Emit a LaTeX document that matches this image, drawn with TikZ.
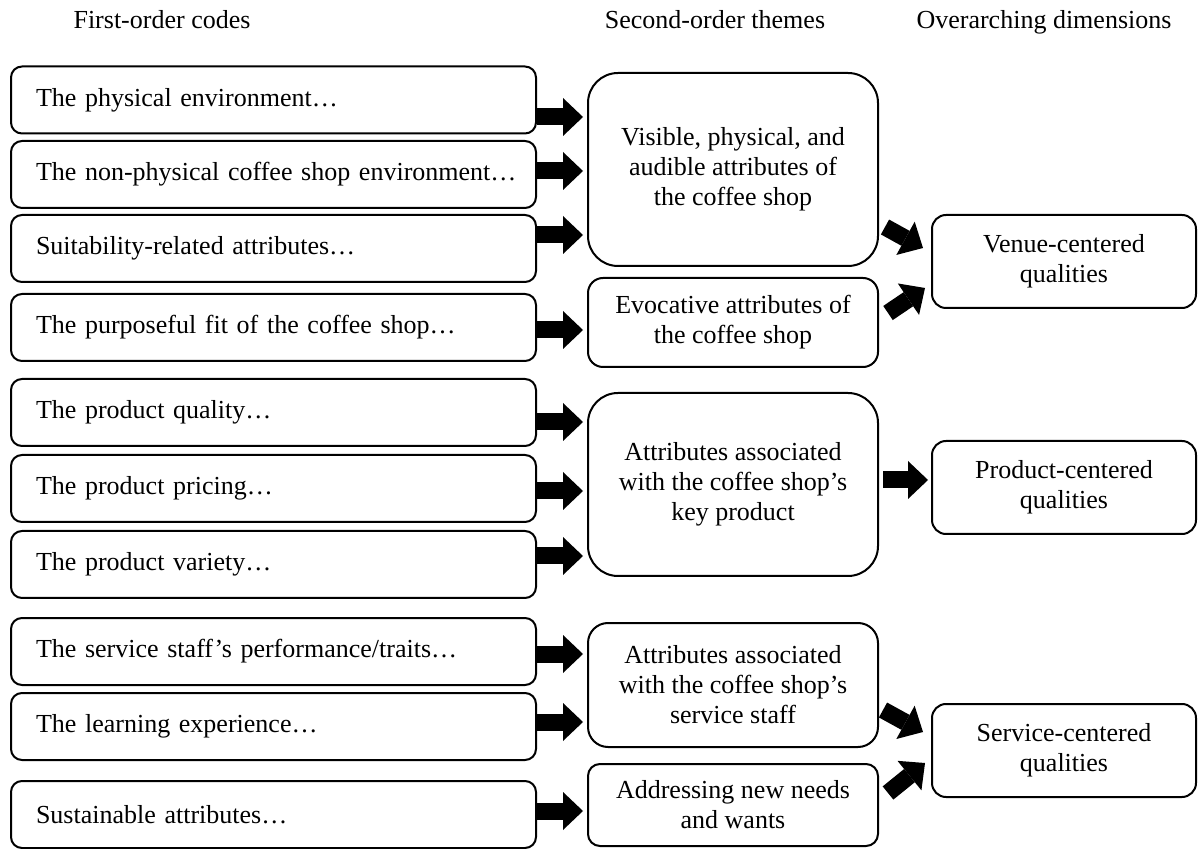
\documentclass[tikz,border=0pt]{standalone}
\usepackage{fontspec}
\setmainfont{Liberation Serif}
\usetikzlibrary{positioning}
\usetikzlibrary{arrows.meta}

\begin{document}
\begin{tikzpicture}[
		x=0.5pt, y=-0.5pt,
		% Style definitions - one pixel of the layout is half a point
		header/.style={font=\fontsize{13}{15}\selectfont, inner sep=0pt, anchor=base},
		codebox/.style={draw, line width=1pt, rounded corners=5.5pt, text width=237.5pt, inner xsep=12.5pt, inner ysep=0pt, minimum height=33.5pt, align=left, font=\fontsize{13}{15}\selectfont},
		themebox/.style={draw, line width=1pt, rounded corners=7.5pt, minimum width=145pt, inner sep=1pt, align=center, font=\fontsize{13}{15}\selectfont},
		dimbox/.style={draw, line width=1pt, rounded corners=7pt, minimum width=132pt, minimum height=46.5pt, inner sep=1pt, align=center, font=\fontsize{13}{15}\selectfont},
		fatarrow/.style={line width=8.5pt, -{Triangle[length=10pt, width=19pt, line width=0pt]}},
		node distance=2.5pt,
		]
		\useasboundingbox (0,0) rectangle (1199,849);

		% === Column headings ===
		\node[header] (hd-codes) at (162,29) {First-order codes};
		\node[header] (hd-themes) at (715,29) {Second-order themes};
		\node[header] (hd-dims) at (1044,29) {Overarching dimensions};

		% === Column 1: first-order codes ===
		\node[codebox] (l1) at (273.5,100) {The physical environment…};
		\node[codebox, below=2.75pt of l1] (l2) {\mbox{The non-physical coffee shop environment…}};
		\node[codebox, below=2.5pt of l2] (l3) {Suitability-related attributes…};
		\node[codebox, below=5pt of l3] (l4) {The purposeful fit of the coffee shop…};
		\node[codebox, below=8pt of l4] (l5) {The product quality…};
		\node[codebox, below=3.5pt of l5] (l6) {The product pricing…};
		\node[codebox, below=3.5pt of l6] (l7) {The product variety…};
		\node[codebox, below=9pt of l7] (l8) {The service staff’s performance/traits…};
		\node[codebox, below=3pt of l8] (l9) {The learning experience…};
		\node[codebox, below=9.5pt of l9] (l10) {Sustainable attributes…};

		% === Column 2: second-order themes ===
		\node[themebox, rounded corners=15pt, minimum height=96.5pt] (a) at (733,169.5) {Visible, physical, and\\audible attributes of\\the coffee shop};
		\node[themebox, minimum height=44.5pt, below=5pt of a] (b) {Evocative attributes of\\the coffee shop};
		\node[themebox, rounded corners=15pt, minimum height=91.5pt] (c) at (733,484.5) {Attributes associated\\with the coffee shop’s\\key product};
		\node[themebox, rounded corners=10pt, minimum height=62pt] (d) at (733,685) {Attributes associated\\with the coffee shop’s\\service staff};
		\node[themebox, rounded corners=6pt, minimum height=41pt, below=7.5pt of d] (e) {Addressing new needs\\and wants};

		% === Column 3: overarching dimensions ===
		\node[dimbox] (v) at (1064,261.5) {Venue-centered\\qualities};
		\node[dimbox] (p) at (1064,487.5) {Product-centered\\qualities};
		\node[dimbox] (s) at (1064,750.5) {Service-centered\\qualities};

		% === Connections: codes to themes ===
		\draw[fatarrow, shorten >=2pt] ([yshift=-8.5pt]l1.east) -- ([yshift=-8.5pt]l1.east -| a.west);
		\draw[fatarrow, shorten >=2pt] ([yshift=1.75pt]l2.east) -- ([yshift=1.75pt]l2.east -| a.west);
		\draw[fatarrow, shorten >=2pt] ([yshift=6.75pt]l3.east) -- ([yshift=6.75pt]l3.east -| a.west);
		\draw[fatarrow, shorten >=2pt] ([yshift=-1.25pt]l4.east) -- ([yshift=-1.25pt]l4.east -| b.west);
		\draw[fatarrow, shorten >=2pt] ([yshift=-4.75pt]l5.east) -- ([yshift=-4.75pt]l5.east -| c.west);
		\draw[fatarrow, shorten >=2pt] ([yshift=-1.25pt]l6.east) -- ([yshift=-1.25pt]l6.east -| c.west);
		\draw[fatarrow, shorten >=2pt] ([yshift=4.25pt]l7.east) -- ([yshift=4.25pt]l7.east -| c.west);
		\draw[fatarrow, shorten >=2pt] ([yshift=-1.25pt]l8.east) -- ([yshift=-1.25pt]l8.east -| d.west);
		\draw[fatarrow, shorten >=2pt] ([yshift=2.25pt]l9.east) -- ([yshift=2.25pt]l9.east -| d.west);
		\draw[fatarrow, shorten >=2pt] ([yshift=1.75pt]l10.east) -- ([yshift=1.75pt]l10.east -| e.west);

		% === Connections: themes to dimensions ===
		\draw[fatarrow] ([xshift=3pt, yshift=-28.75pt]a.east) -- ([xshift=-4pt, yshift=6.75pt]v.west);
		\draw[fatarrow] ([xshift=4.5pt, yshift=4.75pt]b.east) -- ([xshift=-3pt, yshift=-13.25pt]v.west);
		\draw[fatarrow] ([xshift=2pt, yshift=2.25pt]c.east) -- ([xshift=-1.5pt, yshift=3.75pt]p.west);
		\draw[fatarrow] ([xshift=2pt, yshift=-12.5pt]d.east) -- ([xshift=-4pt, yshift=9.25pt]s.west);
		\draw[fatarrow] ([xshift=4.5pt, yshift=6pt]e.east) -- ([xshift=-3pt, yshift=-6.25pt]s.west);

	\end{tikzpicture}
\end{document}
